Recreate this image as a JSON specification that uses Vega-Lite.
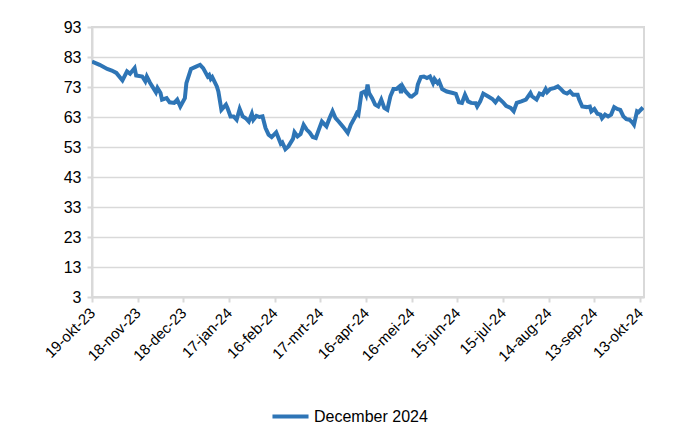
{
  "$schema": "https://vega.github.io/schema/vega-lite/v6.json",
  "width": 552,
  "height": 270,
  "autosize": "none",
  "padding": {"left": 92, "top": 27, "right": 56, "bottom": 133},
  "background": "white",
  "config": {
    "font": "Liberation Sans",
    "view": {"stroke": "#d9d9d9", "strokeWidth": 2}
  },
  "data": {
    "values": [
      {"d": "2023-10-19", "v": 81.5, "s": "December 2024"},
      {"d": "2023-10-24", "v": 80.4, "s": "December 2024"},
      {"d": "2023-10-29", "v": 79.0, "s": "December 2024"},
      {"d": "2023-11-01", "v": 78.5, "s": "December 2024"},
      {"d": "2023-11-04", "v": 77.7, "s": "December 2024"},
      {"d": "2023-11-08", "v": 75.2, "s": "December 2024"},
      {"d": "2023-11-11", "v": 78.2, "s": "December 2024"},
      {"d": "2023-11-13", "v": 77.4, "s": "December 2024"},
      {"d": "2023-11-16", "v": 79.3, "s": "December 2024"},
      {"d": "2023-11-17", "v": 76.8, "s": "December 2024"},
      {"d": "2023-11-21", "v": 76.5, "s": "December 2024"},
      {"d": "2023-11-23", "v": 74.9, "s": "December 2024"},
      {"d": "2023-11-24", "v": 76.5, "s": "December 2024"},
      {"d": "2023-11-26", "v": 74.5, "s": "December 2024"},
      {"d": "2023-11-30", "v": 71.2, "s": "December 2024"},
      {"d": "2023-12-01", "v": 72.7, "s": "December 2024"},
      {"d": "2023-12-03", "v": 71.0, "s": "December 2024"},
      {"d": "2023-12-04", "v": 68.8, "s": "December 2024"},
      {"d": "2023-12-07", "v": 69.3, "s": "December 2024"},
      {"d": "2023-12-09", "v": 67.9, "s": "December 2024"},
      {"d": "2023-12-12", "v": 67.7, "s": "December 2024"},
      {"d": "2023-12-14", "v": 68.8, "s": "December 2024"},
      {"d": "2023-12-16", "v": 66.5, "s": "December 2024"},
      {"d": "2023-12-19", "v": 69.3, "s": "December 2024"},
      {"d": "2023-12-20", "v": 74.3, "s": "December 2024"},
      {"d": "2023-12-23", "v": 79.0, "s": "December 2024"},
      {"d": "2023-12-26", "v": 79.7, "s": "December 2024"},
      {"d": "2023-12-29", "v": 80.4, "s": "December 2024"},
      {"d": "2023-12-31", "v": 79.3, "s": "December 2024"},
      {"d": "2024-01-03", "v": 76.5, "s": "December 2024"},
      {"d": "2024-01-04", "v": 77.0, "s": "December 2024"},
      {"d": "2024-01-05", "v": 75.7, "s": "December 2024"},
      {"d": "2024-01-06", "v": 76.3, "s": "December 2024"},
      {"d": "2024-01-09", "v": 73.2, "s": "December 2024"},
      {"d": "2024-01-10", "v": 71.5, "s": "December 2024"},
      {"d": "2024-01-12", "v": 65.4, "s": "December 2024"},
      {"d": "2024-01-15", "v": 67.1, "s": "December 2024"},
      {"d": "2024-01-16", "v": 66.0, "s": "December 2024"},
      {"d": "2024-01-18", "v": 63.2, "s": "December 2024"},
      {"d": "2024-01-20", "v": 63.2, "s": "December 2024"},
      {"d": "2024-01-22", "v": 62.1, "s": "December 2024"},
      {"d": "2024-01-24", "v": 65.7, "s": "December 2024"},
      {"d": "2024-01-26", "v": 63.2, "s": "December 2024"},
      {"d": "2024-01-28", "v": 62.6, "s": "December 2024"},
      {"d": "2024-01-30", "v": 61.5, "s": "December 2024"},
      {"d": "2024-02-01", "v": 64.1, "s": "December 2024"},
      {"d": "2024-02-02", "v": 62.1, "s": "December 2024"},
      {"d": "2024-02-04", "v": 63.4, "s": "December 2024"},
      {"d": "2024-02-06", "v": 63.0, "s": "December 2024"},
      {"d": "2024-02-08", "v": 63.2, "s": "December 2024"},
      {"d": "2024-02-10", "v": 59.3, "s": "December 2024"},
      {"d": "2024-02-12", "v": 57.1, "s": "December 2024"},
      {"d": "2024-02-14", "v": 56.3, "s": "December 2024"},
      {"d": "2024-02-17", "v": 57.9, "s": "December 2024"},
      {"d": "2024-02-20", "v": 54.1, "s": "December 2024"},
      {"d": "2024-02-21", "v": 54.5, "s": "December 2024"},
      {"d": "2024-02-23", "v": 52.3, "s": "December 2024"},
      {"d": "2024-02-25", "v": 53.2, "s": "December 2024"},
      {"d": "2024-02-28", "v": 55.7, "s": "December 2024"},
      {"d": "2024-02-29", "v": 57.9, "s": "December 2024"},
      {"d": "2024-03-02", "v": 56.5, "s": "December 2024"},
      {"d": "2024-03-04", "v": 57.3, "s": "December 2024"},
      {"d": "2024-03-06", "v": 60.4, "s": "December 2024"},
      {"d": "2024-03-08", "v": 58.8, "s": "December 2024"},
      {"d": "2024-03-10", "v": 57.8, "s": "December 2024"},
      {"d": "2024-03-12", "v": 56.3, "s": "December 2024"},
      {"d": "2024-03-14", "v": 56.0, "s": "December 2024"},
      {"d": "2024-03-16", "v": 58.8, "s": "December 2024"},
      {"d": "2024-03-18", "v": 61.5, "s": "December 2024"},
      {"d": "2024-03-21", "v": 59.9, "s": "December 2024"},
      {"d": "2024-03-23", "v": 62.6, "s": "December 2024"},
      {"d": "2024-03-25", "v": 64.9, "s": "December 2024"},
      {"d": "2024-03-27", "v": 62.6, "s": "December 2024"},
      {"d": "2024-03-29", "v": 61.5, "s": "December 2024"},
      {"d": "2024-04-01", "v": 59.7, "s": "December 2024"},
      {"d": "2024-04-04", "v": 57.7, "s": "December 2024"},
      {"d": "2024-04-06", "v": 60.4, "s": "December 2024"},
      {"d": "2024-04-09", "v": 63.2, "s": "December 2024"},
      {"d": "2024-04-10", "v": 64.3, "s": "December 2024"},
      {"d": "2024-04-11", "v": 63.8, "s": "December 2024"},
      {"d": "2024-04-13", "v": 71.0, "s": "December 2024"},
      {"d": "2024-04-15", "v": 71.5, "s": "December 2024"},
      {"d": "2024-04-16", "v": 70.4, "s": "December 2024"},
      {"d": "2024-04-17", "v": 73.8, "s": "December 2024"},
      {"d": "2024-04-18", "v": 71.0, "s": "December 2024"},
      {"d": "2024-04-20", "v": 69.3, "s": "December 2024"},
      {"d": "2024-04-22", "v": 67.1, "s": "December 2024"},
      {"d": "2024-04-24", "v": 66.5, "s": "December 2024"},
      {"d": "2024-04-26", "v": 68.8, "s": "December 2024"},
      {"d": "2024-04-28", "v": 66.0, "s": "December 2024"},
      {"d": "2024-04-30", "v": 65.4, "s": "December 2024"},
      {"d": "2024-05-02", "v": 69.9, "s": "December 2024"},
      {"d": "2024-05-04", "v": 72.3, "s": "December 2024"},
      {"d": "2024-05-06", "v": 72.3, "s": "December 2024"},
      {"d": "2024-05-08", "v": 73.2, "s": "December 2024"},
      {"d": "2024-05-09", "v": 71.0, "s": "December 2024"},
      {"d": "2024-05-10", "v": 73.2, "s": "December 2024"},
      {"d": "2024-05-12", "v": 71.5, "s": "December 2024"},
      {"d": "2024-05-15", "v": 69.9, "s": "December 2024"},
      {"d": "2024-05-16", "v": 69.8, "s": "December 2024"},
      {"d": "2024-05-19", "v": 71.0, "s": "December 2024"},
      {"d": "2024-05-20", "v": 73.8, "s": "December 2024"},
      {"d": "2024-05-22", "v": 76.3, "s": "December 2024"},
      {"d": "2024-05-24", "v": 76.5, "s": "December 2024"},
      {"d": "2024-05-26", "v": 76.0, "s": "December 2024"},
      {"d": "2024-05-28", "v": 76.5, "s": "December 2024"},
      {"d": "2024-05-30", "v": 74.3, "s": "December 2024"},
      {"d": "2024-05-31", "v": 75.7, "s": "December 2024"},
      {"d": "2024-06-02", "v": 74.3, "s": "December 2024"},
      {"d": "2024-06-03", "v": 74.9, "s": "December 2024"},
      {"d": "2024-06-05", "v": 72.3, "s": "December 2024"},
      {"d": "2024-06-08", "v": 71.5, "s": "December 2024"},
      {"d": "2024-06-12", "v": 71.0, "s": "December 2024"},
      {"d": "2024-06-14", "v": 70.7, "s": "December 2024"},
      {"d": "2024-06-16", "v": 67.9, "s": "December 2024"},
      {"d": "2024-06-18", "v": 67.7, "s": "December 2024"},
      {"d": "2024-06-20", "v": 70.4, "s": "December 2024"},
      {"d": "2024-06-22", "v": 68.2, "s": "December 2024"},
      {"d": "2024-06-24", "v": 67.7, "s": "December 2024"},
      {"d": "2024-06-27", "v": 67.6, "s": "December 2024"},
      {"d": "2024-06-28", "v": 66.5, "s": "December 2024"},
      {"d": "2024-06-30", "v": 68.2, "s": "December 2024"},
      {"d": "2024-07-02", "v": 70.8, "s": "December 2024"},
      {"d": "2024-07-05", "v": 69.9, "s": "December 2024"},
      {"d": "2024-07-08", "v": 69.0, "s": "December 2024"},
      {"d": "2024-07-10", "v": 67.9, "s": "December 2024"},
      {"d": "2024-07-12", "v": 69.3, "s": "December 2024"},
      {"d": "2024-07-15", "v": 67.9, "s": "December 2024"},
      {"d": "2024-07-17", "v": 66.7, "s": "December 2024"},
      {"d": "2024-07-20", "v": 66.0, "s": "December 2024"},
      {"d": "2024-07-22", "v": 64.9, "s": "December 2024"},
      {"d": "2024-07-24", "v": 67.7, "s": "December 2024"},
      {"d": "2024-07-27", "v": 68.2, "s": "December 2024"},
      {"d": "2024-07-30", "v": 68.8, "s": "December 2024"},
      {"d": "2024-08-02", "v": 71.0, "s": "December 2024"},
      {"d": "2024-08-03", "v": 69.9, "s": "December 2024"},
      {"d": "2024-08-06", "v": 68.8, "s": "December 2024"},
      {"d": "2024-08-08", "v": 70.8, "s": "December 2024"},
      {"d": "2024-08-10", "v": 70.4, "s": "December 2024"},
      {"d": "2024-08-12", "v": 72.3, "s": "December 2024"},
      {"d": "2024-08-13", "v": 71.3, "s": "December 2024"},
      {"d": "2024-08-15", "v": 72.3, "s": "December 2024"},
      {"d": "2024-08-18", "v": 72.7, "s": "December 2024"},
      {"d": "2024-08-20", "v": 73.2, "s": "December 2024"},
      {"d": "2024-08-22", "v": 72.3, "s": "December 2024"},
      {"d": "2024-08-24", "v": 71.2, "s": "December 2024"},
      {"d": "2024-08-26", "v": 70.8, "s": "December 2024"},
      {"d": "2024-08-28", "v": 71.5, "s": "December 2024"},
      {"d": "2024-08-30", "v": 70.4, "s": "December 2024"},
      {"d": "2024-09-02", "v": 70.4, "s": "December 2024"},
      {"d": "2024-09-03", "v": 68.8, "s": "December 2024"},
      {"d": "2024-09-05", "v": 66.5, "s": "December 2024"},
      {"d": "2024-09-08", "v": 66.3, "s": "December 2024"},
      {"d": "2024-09-10", "v": 66.5, "s": "December 2024"},
      {"d": "2024-09-11", "v": 64.9, "s": "December 2024"},
      {"d": "2024-09-13", "v": 65.7, "s": "December 2024"},
      {"d": "2024-09-15", "v": 64.1, "s": "December 2024"},
      {"d": "2024-09-17", "v": 63.8, "s": "December 2024"},
      {"d": "2024-09-18", "v": 62.6, "s": "December 2024"},
      {"d": "2024-09-20", "v": 63.8, "s": "December 2024"},
      {"d": "2024-09-22", "v": 63.2, "s": "December 2024"},
      {"d": "2024-09-24", "v": 63.8, "s": "December 2024"},
      {"d": "2024-09-26", "v": 66.3, "s": "December 2024"},
      {"d": "2024-09-28", "v": 65.7, "s": "December 2024"},
      {"d": "2024-09-30", "v": 65.4, "s": "December 2024"},
      {"d": "2024-10-02", "v": 63.2, "s": "December 2024"},
      {"d": "2024-10-04", "v": 62.3, "s": "December 2024"},
      {"d": "2024-10-06", "v": 62.1, "s": "December 2024"},
      {"d": "2024-10-08", "v": 61.1, "s": "December 2024"},
      {"d": "2024-10-09", "v": 60.4, "s": "December 2024"},
      {"d": "2024-10-11", "v": 64.9, "s": "December 2024"},
      {"d": "2024-10-12", "v": 64.6, "s": "December 2024"},
      {"d": "2024-10-14", "v": 65.7, "s": "December 2024"},
      {"d": "2024-10-15", "v": 65.2, "s": "December 2024"}
    ]
  },
  "mark": {"type": "line", "strokeWidth": 4, "clip": true},
  "encoding": {
    "x": {
      "field": "d",
      "type": "temporal",
      "scale": {"type": "utc", "domain": [{"year": 2023, "month": 10, "date": 19, "utc": true}, {"year": 2024, "month": 10, "date": 15, "hours": 14, "utc": true}]},
      "axis": {
        "title": null,
        "grid": false,
        "values": [
          {"year": 2023, "month": 10, "date": 19, "utc": true},
          {"year": 2023, "month": 11, "date": 18, "utc": true},
          {"year": 2023, "month": 12, "date": 18, "utc": true},
          {"year": 2024, "month": 1, "date": 17, "utc": true},
          {"year": 2024, "month": 2, "date": 16, "utc": true},
          {"year": 2024, "month": 3, "date": 17, "utc": true},
          {"year": 2024, "month": 4, "date": 16, "utc": true},
          {"year": 2024, "month": 5, "date": 16, "utc": true},
          {"year": 2024, "month": 6, "date": 15, "utc": true},
          {"year": 2024, "month": 7, "date": 15, "utc": true},
          {"year": 2024, "month": 8, "date": 14, "utc": true},
          {"year": 2024, "month": 9, "date": 13, "utc": true},
          {"year": 2024, "month": 10, "date": 13, "utc": true}
        ],
        "labelExpr": "utcdate(datum.value) + '-' + ['jan','feb','mrt','apr','mei','jun','jul','aug','sep','okt','nov','dec'][utcmonth(datum.value)] + '-' + utcFormat(datum.value, '%y')",
        "labelAngle": -45,
        "labelAlign": "right",
        "labelBaseline": "middle",
        "labelFontSize": 15,
        "labelColor": "#000000",
        "labelPadding": 8,
        "labelOverlap": false,
        "labelFlush": false,
        "domainColor": "#d9d9d9",
        "domainWidth": 2,
        "tickColor": "#d9d9d9",
        "tickWidth": 2,
        "tickSize": 5
      }
    },
    "y": {
      "field": "v",
      "type": "quantitative",
      "scale": {"domain": [3, 93], "nice": false, "zero": false},
      "axis": {
        "title": null,
        "values": [3, 13, 23, 33, 43, 53, 63, 73, 83, 93],
        "labelFontSize": 16,
        "labelColor": "#000000",
        "labelPadding": 6,
        "domainColor": "#d9d9d9",
        "domainWidth": 2,
        "tickColor": "#d9d9d9",
        "tickWidth": 2,
        "tickSize": 5,
        "gridColor": "#d9d9d9",
        "gridWidth": 1.5
      }
    },
    "color": {
      "field": "s",
      "type": "nominal",
      "scale": {"range": ["#2e75b6"]},
      "legend": {
        "title": null,
        "orient": "none",
        "legendX": 178,
        "legendY": 369,
        "symbolType": "stroke",
        "symbolStrokeWidth": 4,
        "symbolSize": 1300,
        "labelFontSize": 16,
        "labelColor": "#000000",
        "labelOffset": 3
      }
    }
  }
}
